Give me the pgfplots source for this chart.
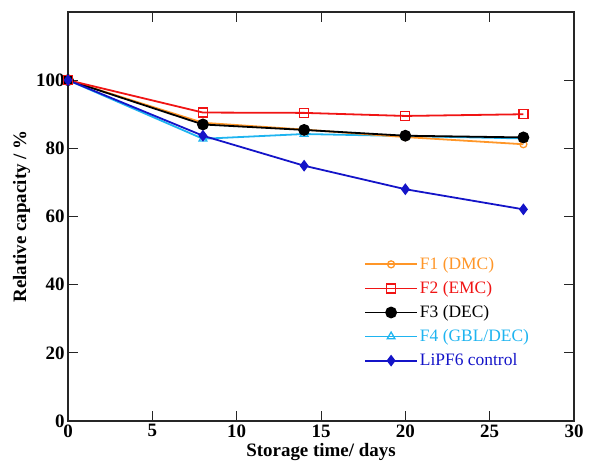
\documentclass[border=0pt]{standalone}
\usepackage{pgfplots}
\pgfplotsset{compat=1.18}
\usepackage{fontspec}
\setmainfont{Liberation Serif}
\definecolor{cF1}{RGB}{255,150,40}
\definecolor{cF2}{RGB}{240,20,20}
\definecolor{cF3}{RGB}{0,0,0}
\definecolor{cF4}{RGB}{30,180,240}
\definecolor{cF5}{RGB}{20,20,200}
\begin{document}
\begin{tikzpicture}[x=1bp,y=1bp]
\begin{axis}[
  scale only axis,
  width=506bp, height=409bp,
  xmin=0, xmax=30, ymin=0, ymax=120,
  xtick={0,5,...,30}, ytick={0,20,...,100},
  tick align=inside,
  major tick length=10bp,
  minor tick num=0,
  axis line style={line width=1.1pt, black!85},
  tick style={line width=1pt, black!85},
  ticklabel style={font=\fontsize{19}{19}\selectfont\bfseries},
  /pgf/number format/assume math mode=true,
  xlabel={Storage time/ days},
  ylabel={Relative capacity / \%},
  label style={font=\fontsize{19}{19}\selectfont\bfseries},
  xlabel style={yshift=1bp},
  ylabel style={yshift=-1bp},
  legend cell align=left,
  legend style={draw=none, fill=none, at={(0.585,0.405)}, anchor=north west,
    font=\fontsize{17.5}{17.5}\selectfont, row sep=6.5bp, inner sep=0pt},
  legend image code/.code={\draw[#1] (0bp,0bp) -- (26bp,0bp) plot coordinates {(26bp,0bp)}; \draw[#1] (26bp,0bp) -- (52bp,0bp);},
  every axis plot/.append style={line width=1.8pt},
]
\addlegendimage{line width=1.8pt, color=cF1, mark=o, mark size=3.5bp, mark options={line width=1.3pt, fill=white}}
\addlegendentry{\textcolor{cF1}{F1 (DMC)}}
\addlegendimage{line width=1.8pt, color=cF2, mark=square, mark size=4.5bp, mark options={line width=1.3pt, fill=white}}
\addlegendentry{\textcolor{cF2}{F2 (EMC)}}
\addlegendimage{line width=1.8pt, color=cF3, mark=*, mark size=5bp}
\addlegendentry{\textcolor{cF3}{F3 (DEC)}}
\addlegendimage{line width=1.8pt, color=cF4, mark=triangle, mark size=4.5bp, mark options={line width=1.3pt, fill=white}}
\addlegendentry{\textcolor{cF4}{F4 (GBL/DEC)}}
\addlegendimage{line width=1.8pt, color=cF5, mark=diamond*, mark size=4.5bp}
\addlegendentry{\textcolor{cF5}{LiPF6 control}}
\addplot[forget plot, color=cF4, mark=triangle, mark size=4.5bp, mark options={line width=1.3pt, fill=white}] coordinates {(0,100) (8,82.8) (14,84.2) (20,83.6) (27,82.9)};
\addplot[forget plot, color=cF1, mark=o, mark size=3.5bp, mark options={line width=1.3pt, fill=white}] coordinates {(0,100) (8,87.5) (14,85.5) (20,83.3) (27,81.2)};
\addplot[forget plot, color=cF3, mark=*, mark size=5bp] coordinates {(0,100) (8,87.0) (14,85.4) (20,83.7) (27,83.2)};
\addplot[forget plot, color=cF2, mark=square, mark size=4.5bp, mark options={line width=1.3pt, fill=white}] coordinates {(0,100) (8,90.5) (14,90.4) (20,89.5) (27,90.0)};
\addplot[forget plot, color=cF5, mark=diamond*, mark size=4.5bp] coordinates {(0,100) (8,83.7) (14,74.9) (20,68.0) (27,62.1)};
\end{axis}
\pgfresetboundingbox
\path (-68bp,-51bp) rectangle (521bp,421bp);
\end{tikzpicture}
\end{document}
